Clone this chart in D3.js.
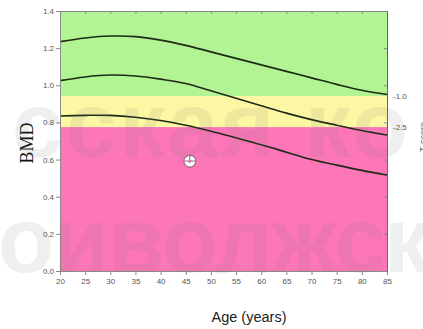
<!DOCTYPE html>
<html>
<head>
<meta charset="utf-8">
<script src="https://cdn.jsdelivr.net/npm/d3@7"></script>
<style>
  body { margin: 0; background: #fff; }
  svg { display: block; }
</style>
</head>
<body>
<div id="chart"></div>
<script>
// reference curves
const ages = [20, 25, 30, 35, 40, 45, 50, 55, 60, 65, 70, 75, 80, 85];
const upperCurve = [1.235, 1.255, 1.265, 1.262, 1.243, 1.215, 1.18, 1.145, 1.11, 1.075, 1.04, 1.005, 0.973, 0.95];
const meanCurve = [1.025, 1.045, 1.055, 1.05, 1.033, 1.01, 0.97, 0.93, 0.89, 0.85, 0.815, 0.785, 0.757, 0.732];
const lowerCurve = [0.835, 0.838, 0.838, 0.828, 0.81, 0.785, 0.753, 0.717, 0.68, 0.64, 0.60, 0.57, 0.542, 0.517];

// zones: normal / osteopenia / osteoporosis
const zoneBounds = [1.4, 0.942, 0.775, 0.0];
const zoneColors = ['#b2f493', '#fcf7a2', '#fd76b8'];
const tLabels = ['-1.0', '-2.5'];

const patient = { age: 45.8, bmd: 0.592 };

const xTicks = d3.range(20, 86, 5);
const yTicks = [0.0, 0.2, 0.4, 0.6, 0.8, 1.0, 1.2, 1.4];

const width = 423;
const height = 329;
const margin = { top: 11, right: 36, bottom: 58, left: 60 };
const innerW = width - margin.left - margin.right;
const innerH = height - margin.top - margin.bottom;

const svg = d3.select('#chart').append('svg')
  .attr('width', width)
  .attr('height', height);

const g = svg.append('g')
  .attr('transform', `translate(${margin.left},${margin.top})`);

const x = d3.scaleLinear().domain([20, 85]).range([0, innerW]);
const y = d3.scaleLinear().domain([0, 1.4]).range([innerH, 0]);

/* zones */
g.selectAll('.zone')
  .data(zoneColors)
  .enter().append('rect')
  .attr('class', 'zone')
  .attr('x', 0)
  .attr('width', innerW)
  .attr('y', (d, i) => y(zoneBounds[i]))
  .attr('height', (d, i) => y(zoneBounds[i + 1]) - y(zoneBounds[i]))
  .attr('fill', d => d);

/* curves */
const line = d3.line()
  .x(d => x(d[0]))
  .y(d => y(d[1]))
  .curve(d3.curveCatmullRom);

[upperCurve, meanCurve, lowerCurve].forEach(vals => {
  g.append('path')
    .datum(ages.map((a, i) => [a, vals[i]]))
    .attr('d', line)
    .attr('fill', 'none')
    .attr('stroke', '#1c2a16')
    .attr('stroke-width', 1.6);
});

/* axes */
const axisColor = '#8a8a8a';
const labelColor = '#555';

const yAxis = g.append('g')
  .call(d3.axisLeft(y).tickValues(yTicks).tickSize(4).tickPadding(2).tickFormat(d3.format('.1f')));
const xAxis = g.append('g')
  .attr('transform', `translate(0,${innerH})`)
  .call(d3.axisBottom(x).tickValues(xTicks).tickSize(4).tickPadding(3));
const topAxis = g.append('g')
  .call(d3.axisTop(x).tickValues(xTicks).tickSize(-3).tickFormat(''));
const rightAxis = g.append('g')
  .attr('transform', `translate(${innerW},0)`)
  .call(d3.axisRight(y).tickValues(yTicks).tickSize(-3).tickFormat(''));

[yAxis, xAxis, topAxis, rightAxis].forEach(a => {
  a.select('.domain').attr('stroke', axisColor);
  a.selectAll('line').attr('stroke', axisColor);
  a.selectAll('text')
    .attr('fill', labelColor)
    .style('font-family', 'Liberation Sans, Arial, sans-serif')
    .style('font-size', '8px');
});
rightAxis.select('.domain').attr('stroke', '#7a5a70');

/* T-score labels on the right */
g.selectAll('.tlab')
  .data(tLabels)
  .enter().append('text')
  .attr('x', innerW + 6)
  .attr('y', (d, i) => y(zoneBounds[i + 1]) + 3)
  .attr('fill', labelColor)
  .style('font-family', 'Liberation Sans, Arial, sans-serif')
  .style('font-size', '8px')
  .text(d => d);

svg.append('text')
  .attr('transform', 'translate(426,137) rotate(-90)')
  .attr('text-anchor', 'middle')
  .attr('fill', '#666')
  .style('font-family', 'Liberation Sans, Arial, sans-serif')
  .style('font-size', '9px')
  .text('T-score');

/* patient marker */
const pm = g.append('g')
  .attr('transform', `translate(${x(patient.age)},${y(patient.bmd)})`);
pm.append('circle')
  .attr('r', 6)
  .attr('fill', '#fff')
  .attr('stroke', '#9a6a88')
  .attr('stroke-width', 1.2);
pm.append('line').attr('x1', -6).attr('x2', 6).attr('stroke', '#9a6a88').attr('stroke-width', 1);
pm.append('line').attr('y1', -6).attr('y2', 2).attr('stroke', '#9a6a88').attr('stroke-width', 1);
pm.append('circle').attr('r', 1.6).attr('fill', '#d080a8');

/* axis titles */
svg.append('text')
  .attr('transform', 'translate(33,143) rotate(-90)')
  .attr('text-anchor', 'middle')
  .attr('fill', '#111')
  .style('font-family', 'Liberation Serif, Times New Roman, serif')
  .style('font-size', '18px')
  .text('BMD');

svg.append('text')
  .attr('x', 249)
  .attr('y', 322)
  .attr('text-anchor', 'middle')
  .attr('fill', '#222')
  .style('font-family', 'Liberation Sans, Arial, sans-serif')
  .style('font-size', '14.5px')
  .text('Age (years)');

/* watermark */
const wm = [
  { text: 'сская ко', x0: 12, x1: 408, base: 157 },
  { text: 'оиволжск', x0: -2, x1: 430, base: 272 }
];
svg.selectAll('.wm')
  .data(wm)
  .enter().append('text')
  .attr('x', d => d.x0)
  .attr('y', d => d.base)
  .attr('textLength', d => d.x1 - d.x0)
  .attr('lengthAdjust', 'spacing')
  .attr('fill', '#7a7a7a')
  .attr('opacity', 0.11)
  .style('font-family', 'Liberation Sans, Arial, sans-serif')
  .style('font-weight', 'bold')
  .style('font-size', '92px')
  .text(d => d.text);
</script>
</body>
</html>
